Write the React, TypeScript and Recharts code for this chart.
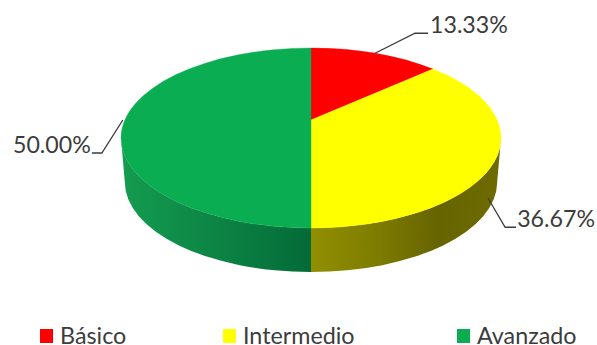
import React from 'react';
import { PieChart, Pie, Legend } from 'recharts';

const categories = ['Básico', 'Intermedio', 'Avanzado'];
const shares = [13.33, 36.67, 50.0];
const topColors = ['#ff0000', '#ffff00', '#0bad52'];

// Shading of the side wall, left to right across the disc, per category.
const wallStops: string[][] = [
  [],
  ['#918f00', '#7f7d00', '#666400', '#6d6b00'],
  ['#149c50', '#0f8c48', '#0a7c40', '#046a38'],
];
const wallRanges = [[311, 501], [311, 501], [121, 311]];

const rows = categories.map((name, i) => ({ name, value: shares[i], fill: topColors[i] }));

const CX = 311;
const CY = 138;
const RX = 190;
const RY = 90;
const DEPTH = 44;
const TILT = 0.2; // perspective strength: moves the apex towards the back of the disc
const FOOT = 0.98; // the lower rim is slightly narrower than the upper one

// Visible wall runs between these clockwise-from-top angles.
const WALL_FROM = (Math.acos(-TILT) * 180) / Math.PI;
const WALL_TO = 360 - WALL_FROM;

const project = (theta: number) => {
  const r = (theta * Math.PI) / 180;
  const u = Math.sin(r);
  const v = Math.cos(r);
  const d = 1 + TILT * v;
  return {
    x: CX + (RX * Math.sqrt(1 - TILT * TILT) * u) / d,
    y: CY - (RY * v + RY * TILT) / d,
  };
};

const TopSlice = (p: any) => {
  const a = 90 - p.startAngle;
  const b = 90 - p.endAngle;
  const s = project(a);
  const e = project(b);
  const apex = { x: CX, y: CY - RY * TILT };
  const d = `M${apex.x},${apex.y} L${s.x},${s.y} A${RX},${RY} 0 ${b - a > 180 ? 1 : 0} 1 ${e.x},${e.y} Z`;
  return <path d={d} fill={p.fill} stroke={p.fill} strokeWidth={0.4} />;
};

const WallSlice = (p: any) => {
  const a = Math.max(90 - p.startAngle, WALL_FROM);
  const b = Math.min(90 - p.endAngle, WALL_TO);
  if (b <= a) return <g />;
  const s = project(a);
  const e = project(b);
  const foot = (q: { x: number; y: number }) => ({ x: CX + (q.x - CX) * FOOT, y: q.y + DEPTH });
  const fs = foot(s);
  const fe = foot(e);
  const i = p.index;
  const id = `wall-${i}`;
  const stops = wallStops[i];
  const d = `M${s.x},${s.y} A${RX},${RY} 0 0 1 ${e.x},${e.y} L${fe.x},${fe.y} A${RX * FOOT},${RY} 0 0 0 ${fs.x},${fs.y} Z`;
  return (
    <g>
      <defs>
        <linearGradient id={id} gradientUnits="userSpaceOnUse" x1={wallRanges[i][0]} x2={wallRanges[i][1]} y1={0} y2={0}>
          {stops.map((c, k) => (
            <stop key={k} offset={k / (stops.length - 1)} stopColor={c} />
          ))}
        </linearGradient>
      </defs>
      <path d={d} fill={`url(#${id})`} />
    </g>
  );
};

const FONT = 'Lato, "Open Sans", sans-serif';
const INK = '#3c3c3c';

// Leader routing for each value label, relative to its rim anchor.
const leaderShift = [[0, 0], [-8, 40], [-2, 0]];
const leaderBend = [[40, -20], [17, 29], [-21, 33]];
const leaderRun = [13, 11, -10];
const textGap = [2, 1, -1];

const ValueLabel = (p: any) => {
  const i = p.index;
  const rim = project(90 - p.midAngle);
  const x0 = rim.x + leaderShift[i][0];
  const y0 = rim.y + leaderShift[i][1];
  const x1 = x0 + leaderBend[i][0];
  const y1 = y0 + leaderBend[i][1];
  const x2 = x1 + leaderRun[i];
  const right = leaderRun[i] > 0;
  return (
    <g>
      <polyline points={`${x0},${y0} ${x1},${y1} ${x2},${y1}`} fill="none" stroke={INK} strokeWidth={1.3} />
      <text
        x={x2 + textGap[i]}
        y={y1}
        textAnchor={right ? 'start' : 'end'}
        fontFamily={FONT}
        fontSize={23.2}
        fill={INK}
      >
        {`${Number(p.value).toFixed(2)}%`}
      </text>
    </g>
  );
};

const legendLeft = [40, 223, 457];

// The wall layer repeats every category in the payload, so only one entry per name is kept.
const LegendRow = ({ payload }: any) => {
  const items = categories.map((name) => (payload || []).find((it: any) => it.value === name)).filter(Boolean);
  return (
    <div style={{ position: 'relative', height: 20, width: 597 }}>
      {items.map((item: any, i: number) => (
        <div key={item.value} style={{ position: 'absolute', left: legendLeft[i], top: 0, display: 'flex', alignItems: 'center', height: 20 }}>
          <span style={{ width: 13, height: 14, background: item.color, display: 'inline-block', marginRight: 7, marginTop: 2 }} />
          <span style={{ fontFamily: FONT, fontSize: 23.3, color: INK, lineHeight: '20px' }}>{item.value}</span>
        </div>
      ))}
    </div>
  );
};

export default function App() {
  return (
    <div style={{ position: 'absolute', left: 0, top: 0, width: 597, height: 345, background: '#fff', overflow: 'hidden' }}>
      <PieChart width={597} height={345} margin={{ top: 0, right: 0, bottom: 0, left: 0 }}>
        <Pie
          data={rows}
          dataKey="value"
          nameKey="name"
          cx={CX}
          cy={CY}
          outerRadius={RX}
          startAngle={90}
          endAngle={-270}
          stroke="none"
          legendType="none"
          shape={WallSlice}
          isAnimationActive={false}
        />
        <Pie
          data={rows}
          dataKey="value"
          nameKey="name"
          cx={CX}
          cy={CY}
          outerRadius={RX}
          startAngle={90}
          endAngle={-270}
          stroke="none"
          shape={TopSlice}
          label={ValueLabel}
          labelLine={false}
          isAnimationActive={false}
        />
        <Legend
          content={LegendRow}
          wrapperStyle={{ position: 'absolute', left: 0, top: 325, width: 597, height: 20 }}
        />
      </PieChart>
    </div>
  );
}
